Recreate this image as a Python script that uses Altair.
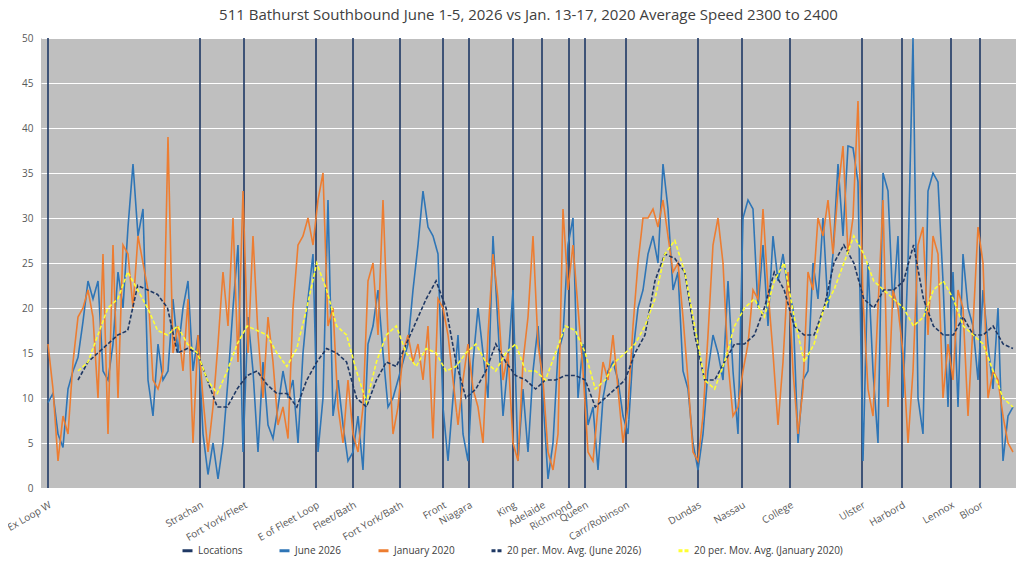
import altair as alt
import numpy as np
import pandas as pd

FONT = "Open Sans"

loc_x = [48, 200, 244, 316, 353, 400, 443, 469, 513, 542, 569, 585, 626,
         698, 742, 790, 862, 902, 951, 980]
loc_names = ["Ex Loop W", "Strachan", "Fort York/Fleet", "E of Fleet Loop",
             "Fleet/Bath", "Fort York/Bath", "Front", "Niagara", "King",
             "Adelaide", "Richmond", "Queen", "Carr/Robinson", "Dundas",
             "Nassau", "College", "Ulster", "Harbord", "Lennox", "Bloor"]

june_2026 = [
    9.5, 10.5, 6, 4.5, 11, 13, 14.5, 18.5, 23, 21, 23, 13, 12, 16, 24, 20, 29, 36, 28, 31,
    12, 8, 16, 12, 13, 21, 15, 20, 23, 13, 17, 6, 1.5, 5, 1, 5, 12, 20, 27, 4,
    19, 13, 4, 14, 7, 5.5, 9, 13, 10, 12, 5, 15, 21, 26, 4, 10, 32, 8, 12, 7,
    3, 4, 8, 2, 16, 18, 22, 15, 9, 10, 12, 14, 16, 22, 27, 33, 29, 28, 26, 9,
    3, 10, 17, 6, 3, 14, 20, 15, 10, 28, 18, 8, 14, 22, 3, 11, 4, 13, 18, 10,
    1, 5, 15, 17, 27, 30, 10, 16, 7, 9, 2, 10, 13, 14, 12, 8, 6, 15, 20, 22,
    26, 28, 25, 36, 31, 22, 24, 13, 11, 5, 2, 6, 13, 17, 15, 12, 23, 13, 6, 30,
    32, 31, 20, 27, 18, 28, 23, 26, 22, 20, 5, 12, 13, 25, 21, 30, 20, 26, 36, 28,
    38, 37.8, 34, 3, 25, 13, 5, 35, 33, 20, 28, 10, 25, 50, 10, 6, 33, 35, 34, 23,
    9, 24, 9, 26, 20, 18, 12, 22, 16, 11, 20, 3, 8, 9,
]
january_2020 = [
    16, 11, 3, 8, 6, 14, 19, 20, 22, 19, 10, 26, 6, 27, 10, 27, 26, 20, 28, 25,
    22, 12, 11, 13, 39, 15, 18, 13, 21, 5, 17, 10, 4, 9, 16, 24, 18, 30, 14, 33,
    15, 28, 17, 10, 19, 14, 7, 9, 5.5, 20, 27, 28, 30, 27, 32, 35, 18, 20, 9, 5,
    12, 6, 4, 9, 23, 25, 17, 32, 17, 6, 9, 15, 17, 14, 16, 12, 18, 5.5, 21, 20,
    17, 12, 7, 12, 16, 11, 9, 5, 17, 26, 21, 12, 15, 5, 3, 14, 19, 28, 16, 12,
    4, 2, 6, 31, 22, 27, 20, 13, 4, 3, 9, 14, 12, 17, 11, 5, 9, 18, 25, 30,
    30, 31, 29, 32, 28, 24, 25, 19, 12, 4, 3, 8, 17, 27, 30, 25, 14, 8, 9, 13,
    16, 22, 21, 31, 22, 15, 7, 14, 24, 13, 6, 11, 24, 22, 30, 28, 32, 26, 33, 38,
    26, 30, 43, 21, 11, 8, 20, 32, 9, 22, 20, 15, 5, 13, 27, 29, 17, 28, 26, 10,
    16, 12, 22, 20, 8, 18, 29, 25, 10, 13, 12, 8, 5, 4,
]
ma_june = [
    12, 14, 15, 16, 17, 17.5, 22.5, 22, 21.5, 20, 15, 15.5, 15, 12, 9, 9, 11, 12.5, 13, 11.5,
    10.5, 10.5, 9, 12, 14, 15.5, 15, 14, 10, 9, 12, 14, 13.5, 16, 18.5, 21, 23, 20, 14, 10,
    11, 13, 16, 14, 12.5, 12, 11, 12, 12, 12.5, 12.5, 12, 9, 10, 11, 12, 15, 17, 23, 26,
    25.5, 24, 17, 12, 12, 14, 16, 16, 17, 20, 24, 22, 18, 17, 17, 20, 25, 27, 25, 21,
    20, 22, 22, 23, 27, 21, 18, 17, 17, 19, 17, 17, 18, 16, 15.5,
]
ma_january = [
    13, 14, 17, 20, 21, 24, 22, 20, 17.5, 17, 18, 16, 15, 12, 10.5, 13, 16, 18, 17.5, 17,
    15, 13.5, 15.5, 20, 25, 22, 18, 17, 13, 9.5, 14, 17, 18, 15, 13.5, 15.5, 15, 13, 13.5, 15,
    16, 14, 13, 15, 16, 13, 13, 12, 15, 18, 17.5, 15, 11, 12, 14, 15, 16, 18, 21, 26,
    27.5, 24, 18, 12, 11, 14, 18, 20, 21, 19, 23, 25, 19, 14, 16, 20, 22, 25, 28, 26,
    23, 22, 21, 20, 18, 19, 22, 23, 21, 18, 17, 16, 13, 10, 9,
]

S_JUNE = "June 2026"
S_JAN = "January 2020"
S_MAJ = "20 per. Mov. Avg. (June 2026)"
S_MAN = "20 per. Mov. Avg. (January 2020)"

frames = []
for name, vals, x0 in [(S_JUNE, june_2026, 48), (S_JAN, january_2020, 48),
                       (S_MAJ, ma_june, 78), (S_MAN, ma_january, 78)]:
    frames.append(pd.DataFrame({"x": np.linspace(x0, 1013, len(vals)),
                                "speed": vals, "series": name}))
lines_df = pd.concat(frames, ignore_index=True)
locs_df = pd.DataFrame({"x": loc_x, "name": loc_names, "top": 50, "series": "Locations"})

domain = ["Locations", S_JUNE, S_JAN, S_MAJ, S_MAN]
colors = ["#1F3864", "#2E75B6", "#ED7D31", "#1F3864", "#FFFF33"]
dashes = [[1, 0], [1, 0], [1, 0], [4, 2], [4, 2]]

legend = alt.Legend(orient="none", legendX=140, legendY=506,
                    direction="horizontal", symbolType="stroke",
                    symbolStrokeWidth=3, labelFontSize=10,
                    labelColor="#404040", columnPadding=30, labelFont=FONT)
xs = alt.X("x:Q", scale=alt.Scale(domain=[41, 1016], nice=False, zero=False), axis=None)
color = alt.Color("series:N", scale=alt.Scale(domain=domain, range=colors),
                  title=None, legend=legend)
dash = alt.StrokeDash("series:N", scale=alt.Scale(domain=domain, range=dashes),
                      title=None, legend=legend)

rules = alt.Chart(locs_df).mark_rule(strokeWidth=1.6).encode(
    x=xs, y=alt.Y("top:Q"), y2=alt.datum(0), color=color, strokeDash=dash)

lines = alt.Chart(lines_df).mark_line(strokeWidth=1.6).encode(
    x=xs,
    y=alt.Y("speed:Q", title=None, scale=alt.Scale(domain=[0, 50], nice=False, clamp=True),
            axis=alt.Axis(values=list(range(0, 51, 5)), gridColor="white", gridWidth=1,
                          domain=False, ticks=False, labelColor="#595959",
                          labelFontSize=10, labelPadding=8)),
    color=color, strokeDash=dash, order=alt.Order("x:Q"))

labels = alt.Chart(locs_df).mark_text(
    angle=330, align="right", baseline="top", fontSize=10, color="#595959", font=FONT
).encode(x=xs, y=alt.value(462), text="name:N")

chart = (rules + lines + labels).properties(
    width=975, height=450,
    autosize=alt.AutoSizeParams(type="none"),
    padding={"left": 33, "top": 30, "right": 0, "bottom": 80},
    title=alt.Title("511 Bathurst Southbound June 1-5, 2026 vs Jan. 13-17, 2020 Average Speed 2300 to 2400",
                    fontSize=15, fontWeight="normal", color="#404040", font=FONT, offset=10),
).configure(font=FONT, background="white").configure_view(fill="#BFBFBF", stroke=None)

chart.save("out.html", embed_options={"renderer": "svg", "actions": False})
